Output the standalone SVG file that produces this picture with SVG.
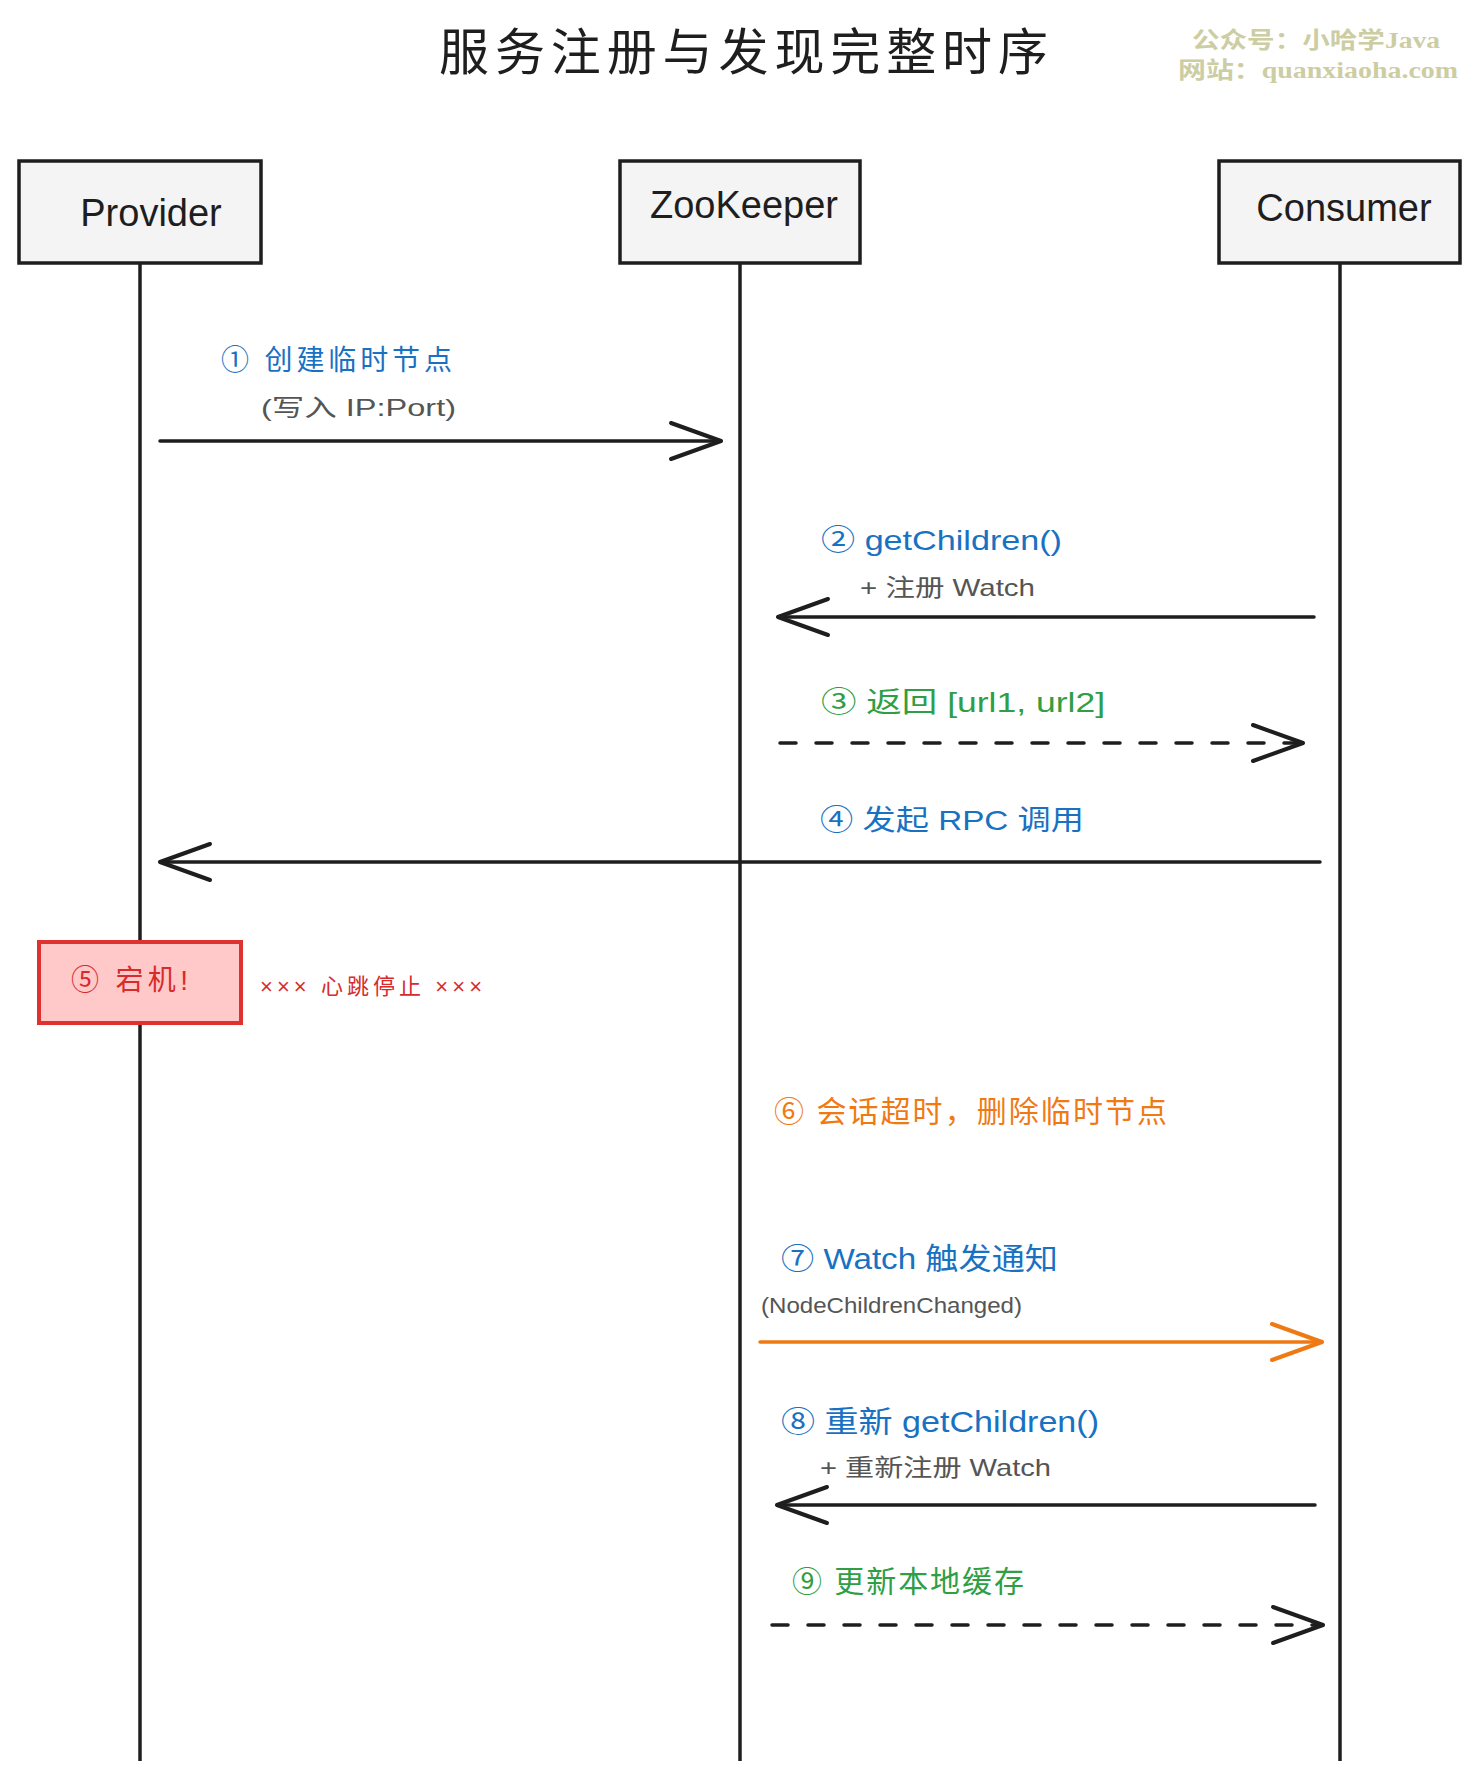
<svg xmlns="http://www.w3.org/2000/svg" width="1480" height="1781" viewBox="0 0 1480 1781">
<style>
.title{font-family:"Noto Sans CJK SC","Liberation Sans",sans-serif;font-size:50px;fill:#1e1e1e}
.wm{font-family:"Liberation Serif","Noto Sans CJK SC",serif;font-size:23px;font-weight:bold;fill:#cdcda4}
.node rect{fill:#f4f4f4;stroke:#1e1e1e;stroke-width:3.5}
.node text{font-family:"Liberation Sans","Noto Sans CJK SC",sans-serif;font-size:38px;fill:#1e1e1e;text-anchor:middle}
.life{stroke:#1e1e1e;stroke-width:3.5;fill:none}
.msg{stroke:#1e1e1e;stroke-width:3.5;fill:none;stroke-linecap:round}
.dash{stroke-dasharray:16 20}
.lbl{font-family:"Liberation Sans","Noto Sans CJK SC",sans-serif;font-size:28px}
.sub{font-family:"Liberation Sans","Noto Sans CJK SC",sans-serif;font-size:23px;fill:#555555}
.blue{fill:#1971c2}.green{fill:#2f9e44}.orange{fill:#ef7a14}.red{fill:#d62c2c}
</style>
<defs>
<marker id="ah" markerUnits="userSpaceOnUse" markerWidth="60" markerHeight="44" viewBox="-55 -22 60 44" refX="0" refY="0" orient="auto" overflow="visible">
<path d="M-50,-18 L0,0 L-50,18" fill="none" stroke="#1e1e1e" stroke-width="4" stroke-linecap="round" stroke-linejoin="round"/>
</marker>
<marker id="ahO" markerUnits="userSpaceOnUse" markerWidth="60" markerHeight="44" viewBox="-55 -22 60 44" refX="0" refY="0" orient="auto" overflow="visible">
<path d="M-50,-18 L0,0 L-50,18" fill="none" stroke="#ef7a14" stroke-width="4" stroke-linecap="round" stroke-linejoin="round"/>
</marker>
</defs>
<rect width="1480" height="1781" fill="#ffffff"/>

<text class="title" x="439" y="70" textLength="609" lengthAdjust="spacing">服务注册与发现完整时序</text>
<text class="wm" x="1192" y="48" textLength="248" lengthAdjust="spacingAndGlyphs">公众号：小哈学Java</text>
<text class="wm" x="1178" y="78" textLength="280" lengthAdjust="spacingAndGlyphs">网站：quanxiaoha.com</text>

<g id="lifelines">
<line class="life" x1="140" y1="263" x2="140" y2="1761"/>
<line class="life" x1="740" y1="263" x2="740" y2="1761"/>
<line class="life" x1="1340" y1="263" x2="1340" y2="1761"/>
</g>

<g id="provider" class="node">
<rect x="19" y="161" width="242" height="102"/>
<text x="151" y="226">Provider</text>
</g>
<g id="zookeeper" class="node">
<rect x="620" y="161" width="240" height="102"/>
<text x="744" y="218">ZooKeeper</text>
</g>
<g id="consumer" class="node">
<rect x="1219" y="161" width="241" height="102"/>
<text x="1344" y="221">Consumer</text>
</g>

<g id="connectors">
<line class="msg" x1="160" y1="441" x2="721" y2="441" marker-end="url(#ah)"/>
<line class="msg" x1="1314" y1="617" x2="778" y2="617" marker-end="url(#ah)"/>
<line class="msg dash" x1="780" y1="743" x2="1303" y2="743" marker-end="url(#ah)"/>
<line class="msg" x1="1320" y1="862" x2="160" y2="862" marker-end="url(#ah)"/>
<line class="msg" x1="760" y1="1342" x2="1322" y2="1342" style="stroke:#ef7a14" marker-end="url(#ahO)"/>
<line class="msg" x1="1315" y1="1505" x2="777" y2="1505" marker-end="url(#ah)"/>
<line class="msg dash" x1="772" y1="1625" x2="1323" y2="1625" marker-end="url(#ah)"/>
</g>

<g id="crash">
<rect x="39" y="942" width="202" height="81" fill="#ffc9c9" stroke="#e03131" stroke-width="4"/>
<text class="lbl red" x="71" y="990" textLength="117" lengthAdjust="spacing">⑤ 宕机!</text>
</g>

<g id="labels">
<text class="lbl blue" x="221" y="370" textLength="231" lengthAdjust="spacing">① 创建临时节点</text>
<text class="sub" x="261" y="416" style="font-size:24px" textLength="195" lengthAdjust="spacingAndGlyphs">(写入 IP:Port)</text>
<text class="lbl blue" x="821" y="550" textLength="241" lengthAdjust="spacingAndGlyphs">② getChildren()</text>
<text class="sub" x="860" y="596" style="font-size:24px" textLength="175" lengthAdjust="spacingAndGlyphs">+ 注册 Watch</text>
<text class="lbl green" x="821" y="712" textLength="284" lengthAdjust="spacingAndGlyphs">③ 返回 [url1, url2]</text>
<text class="lbl blue" x="820" y="830" textLength="264" lengthAdjust="spacingAndGlyphs">④ 发起 RPC 调用</text>
<text class="sub red" x="260" y="994" style="font-size:22px" textLength="222" lengthAdjust="spacing">××× 心跳停止 ×××</text>
<text class="lbl orange" x="774" y="1122" style="font-size:30px" textLength="393" lengthAdjust="spacing">⑥ 会话超时，删除临时节点</text>
<text class="lbl blue" x="781" y="1269" style="font-size:30px" textLength="277" lengthAdjust="spacingAndGlyphs">⑦ Watch 触发通知</text>
<text class="sub" x="761" y="1313" style="font-size:22px" textLength="261" lengthAdjust="spacingAndGlyphs">(NodeChildrenChanged)</text>
<text class="lbl blue" x="781" y="1432" style="font-size:30px" textLength="318" lengthAdjust="spacingAndGlyphs">⑧ 重新 getChildren()</text>
<text class="sub" x="820" y="1476" style="font-size:24px" textLength="231" lengthAdjust="spacingAndGlyphs">+ 重新注册 Watch</text>
<text class="lbl green" x="792" y="1592" style="font-size:30px" textLength="232" lengthAdjust="spacing">⑨ 更新本地缓存</text>
</g>
</svg>
